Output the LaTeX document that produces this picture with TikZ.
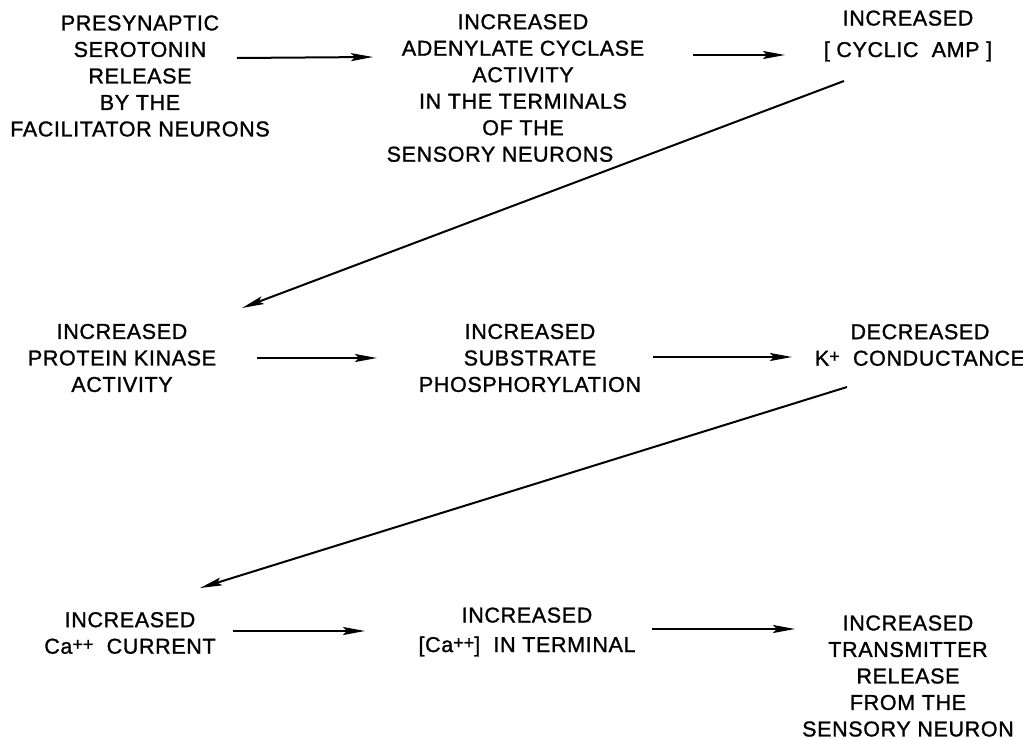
\documentclass[tikz,border=0pt]{standalone}
\usepackage{fontspec}
\setmainfont[LetterSpace=3,FakeBold=1.2]{Liberation Sans}
\usetikzlibrary{arrows.meta,calc}
\newcommand{\plusup}{\raisebox{0.3ex}{\fontsize{18pt}{18pt}\selectfont +}}
\tikzset{
  lbl/.style={align=center, inner sep=0pt, font=\fontsize{21.5pt}{26.5pt}\selectfont},
  arr/.style={line width=2pt, -{Stealth[length=22pt,width=8pt,inset=4pt]}}
}
\begin{document}
\begin{tikzpicture}[x=1pt,y=-1pt]
\useasboundingbox (0,0) rectangle (1023,739);
% row 1
\node[lbl] (n1) at (140,76) {PRESYNAPTIC\\SEROTONIN\\RELEASE\\BY THE\\FACILITATOR NEURONS};
\node[lbl] (n2) at (523,88) {INCREASED\\ADENYLATE CYCLASE\\ACTIVITY\\IN THE TERMINALS\\OF THE\\SENSORY NEURONS\hspace*{46pt}};
\node[lbl] (n3) at (908,36) {INCREASED\\[5pt]{[} CYCLIC\ \ AMP {]}};
% row 2
\node[lbl] (n4) at (122,358) {INCREASED\\PROTEIN KINASE\\ACTIVITY};
\node[lbl] (n5) at (530,358) {INCREASED\\SUBSTRATE\\PHOSPHORYLATION};
\node[lbl] (n6) at (920,345) {DECREASED\\K\plusup\ \ CONDUCTANCE};
% row 3
\node[lbl] (n7) at (130,633) {INCREASED\\Ca\plusup\plusup\ \ CURRENT};
\node[lbl] (n8) at (527,632) {INCREASED\\[3pt]{[}Ca\plusup\plusup{]}\ \ IN TERMINAL};
\node[lbl] (n9) at (908,676) {INCREASED\\TRANSMITTER\\RELEASE\\FROM THE\\SENSORY NEURON};
% connectors
\draw[arr] ($(n1.center)+(97,-18)$) -- ($(n2.center)+(-150,-31)$);
\draw[arr] ($(n2.center)+(170,-33)$) -- ($(n3.center)+(-123,19)$);
\draw[arr] ($(n3.center)+(-64,45)$) -- ($(n4.center)+(120,-50)$);
\draw[arr] ($(n4.center)+(135,0)$) -- ($(n5.center)+(-153,0)$);
\draw[arr] ($(n5.center)+(123,-1)$) -- ($(n6.center)+(-128,12)$);
\draw[arr] ($(n6.center)+(-73,42)$) -- ($(n7.center)+(70,-45)$);
\draw[arr] ($(n7.center)+(103,-2)$) -- ($(n8.center)+(-162,-1)$);
\draw[arr] ($(n8.center)+(125,-3)$) -- ($(n9.center)+(-113,-47)$);
\end{tikzpicture}
\end{document}
